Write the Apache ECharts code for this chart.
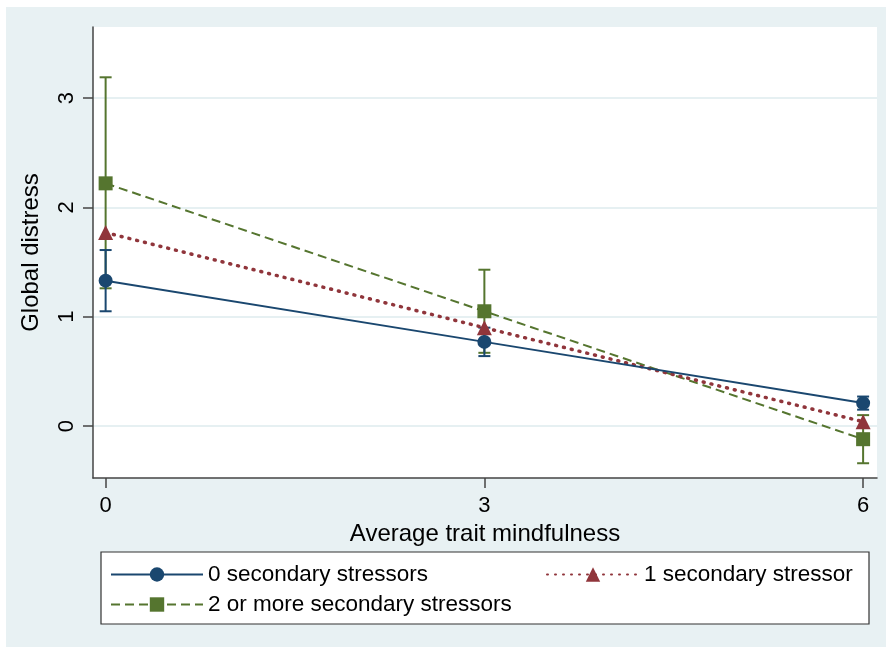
<!DOCTYPE html>
<html>
<head>
<meta charset="utf-8">
<script src="https://cdn.jsdelivr.net/npm/echarts@6/dist/echarts.min.js"></script>
<style>
html,body{margin:0;padding:0;background:#ffffff;}
#chart{width:886px;height:647px;}
</style>
</head>
<body>
<div id="chart"></div>
<script>
// ---- data ----
var xValues = [0, 3, 6];
var seriesNames = ['0 secondary stressors', '1 secondary stressor', '2 or more secondary stressors'];
var mean0 = [1.33, 0.77, 0.21];
var low0 = [1.05, 0.64, 0.15];
var high0 = [1.61, 0.90, 0.27];
var mean1 = [1.77, 0.90, 0.04];
var mean2 = [2.22, 1.05, -0.12];
var low2 = [1.26, 0.67, -0.34];
var high2 = [3.19, 1.43, 0.10];
var xTicks = [0, 3, 6];
var yTicks = [0, 1, 2, 3];

var colors = ['#1a476f', '#90353b', '#55752f'];
var font = '"Liberation Sans", Arial, sans-serif';

function pairs(xs, ys) { return xs.map(function (x, i) { return [x, ys[i]]; }); }
function ciData(xs, lo, hi) { return xs.map(function (x, i) { return [x, lo[i], hi[i]]; }); }

function errorBar(color) {
  return function (params, api) {
    var x = api.value(0);
    var p1 = api.coord([x, api.value(1)]);
    var p2 = api.coord([x, api.value(2)]);
    var hw = 6;
    var st = { stroke: color, lineWidth: 2, fill: null };
    return {
      type: 'group',
      children: [
        { type: 'line', shape: { x1: p1[0], y1: p1[1], x2: p2[0], y2: p2[1] }, style: st },
        { type: 'line', shape: { x1: p1[0] - hw, y1: p1[1], x2: p1[0] + hw, y2: p1[1] }, style: st },
        { type: 'line', shape: { x1: p2[0] - hw, y1: p2[1], x2: p2[0] + hw, y2: p2[1] }, style: st }
      ]
    };
  };
}

var chart = echarts.init(document.getElementById('chart'), null, { renderer: 'canvas' });

var legendCommon = {
  itemWidth: 92,
  itemHeight: 18,
  selectedMode: false,
  textStyle: { fontFamily: font, fontSize: 22.5, color: '#000' },
  padding: 0
};

var option = {
  animation: false,
  backgroundColor: 'transparent',
  graphic: [
    { type: 'rect', z: -10, silent: true, shape: { x: 6, y: 7, width: 880, height: 640 }, style: { fill: '#e8f1f3' } },
    { type: 'rect', z: -9, silent: true, shape: { x: 93, y: 27, width: 784, height: 451 }, style: { fill: '#ffffff' } },
    { type: 'rect', z: -8, silent: true, shape: { x: 101, y: 552, width: 768, height: 72 }, style: { fill: '#ffffff', stroke: '#333333', lineWidth: 1.2 } }
  ],
  grid: { left: 93, top: 27, right: 9, bottom: 169, containLabel: false },
  legend: [
    Object.assign({ data: [seriesNames[0]], left: 110, top: 563 }, legendCommon),
    Object.assign({ data: [seriesNames[1]], left: 546, top: 563 }, legendCommon),
    Object.assign({ data: [seriesNames[2]], left: 110, top: 593 }, legendCommon)
  ],
  xAxis: {
    type: 'value',
    min: -0.1,
    max: 6.11,
    name: 'Average trait mindfulness',
    nameLocation: 'middle',
    nameGap: 34,
    nameTextStyle: { fontFamily: font, fontSize: 24, color: '#000' },
    axisLine: { show: true, onZero: false, lineStyle: { color: '#444', width: 1.5 } },
    axisTick: { show: true, length: 10, customValues: xTicks, lineStyle: { color: '#444', width: 1.5 } },
    axisLabel: { customValues: xTicks, margin: 17, fontFamily: font, fontSize: 22, color: '#000' },
    splitLine: { show: false }
  },
  yAxis: {
    type: 'value',
    min: -0.475,
    max: 3.65,
    name: 'Global distress',
    nameLocation: 'middle',
    nameRotate: 90,
    nameGap: 50,
    nameTextStyle: { fontFamily: font, fontSize: 24, color: '#000' },
    axisLine: { show: true, onZero: false, lineStyle: { color: '#444', width: 1.5 } },
    axisTick: { show: true, length: 10, customValues: yTicks, lineStyle: { color: '#444', width: 1.5 } },
    axisLabel: { customValues: yTicks, rotate: 90, margin: 15, fontFamily: font, fontSize: 22, color: '#000' },
    splitLine: { show: true, lineStyle: { color: '#e6f0f2', width: 2 } }
  },
  series: [
    { type: 'custom', name: 'ci2', data: ciData(xValues, low2, high2), renderItem: errorBar(colors[2]), z: 1, silent: true },
    { type: 'custom', name: 'ci0', data: ciData(xValues, low0, high0), renderItem: errorBar(colors[0]), z: 1, silent: true },
    {
      type: 'line', name: seriesNames[2], data: pairs(xValues, mean2), z: 3,
      symbol: 'rect', symbolSize: 14, showAllSymbol: true,
      itemStyle: { color: colors[2] },
      lineStyle: { color: colors[2], width: 2, type: [9, 5] }
    },
    {
      type: 'line', name: seriesNames[1], data: pairs(xValues, mean1), z: 4,
      symbol: 'triangle', symbolSize: 15, showAllSymbol: true,
      itemStyle: { color: colors[1] },
      lineStyle: { color: colors[1], width: 3.5, type: [1, 7], cap: 'round' }
    },
    {
      type: 'line', name: seriesNames[0], data: pairs(xValues, mean0), z: 5,
      symbol: 'circle', symbolSize: 14, showAllSymbol: true,
      itemStyle: { color: colors[0] },
      lineStyle: { color: colors[0], width: 2, type: 'solid' }
    }
  ]
};
chart.setOption(option);
</script>
</body>
</html>
